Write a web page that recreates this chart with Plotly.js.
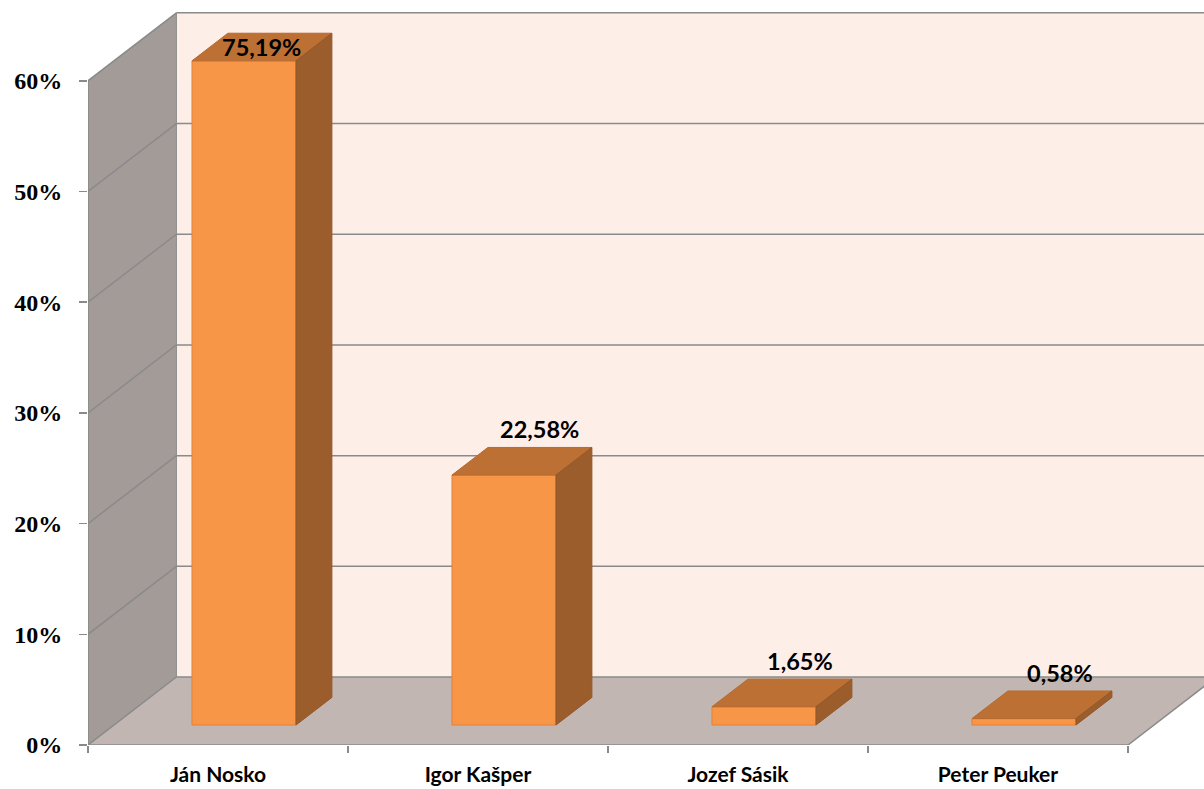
<!DOCTYPE html>
<html>
<head>
<meta charset="utf-8">
<script src="https://cdn.plot.ly/plotly-3.0.1.min.js"></script>
<style>html,body{margin:0;padding:0;background:#fff;}#chart{width:1204px;height:789px;}</style>
</head>
<body>
<div id="chart"></div>
<script>
// ---- data ----
const categories = ['Ján Nosko', 'Igor Kašper', 'Jozef Sásik', 'Peter Peuker'];
const shares = [75.19, 22.58, 1.65, 0.58];
const yTickVals = [0, 10, 20, 30, 40, 50, 60];
const yTickText = ['0%', '10%', '20%', '30%', '40%', '50%', '60%'];
const axisMax = 60;

// ---- 3D geometry (styling) ----
const DX = 0.34;      // depth offset in category units
const DY = 6.14;      // depth offset in percent units
const F0 = 0.294, F1 = 0.70; // bar depth slice
const BW = 0.40;      // bar width
const XMIN = -0.5, XEND = 3.5, XMAX = 3.7923;
const YMAX = 67.3;

const idx = categories.map((_, i) => i);
const clipped = shares.map(v => Math.min(v, axisMax));
const labels = shares.map(v => v.toFixed(2).replace('.', ',') + '%');

const frontX = idx.map(i => i + F0 * DX);
const base = F0 * DY;
const dd = F1 - F0;

// side and top faces
const sideX = [], sideY = [], topX = [], topY = [];
idx.forEach(i => {
  const xl = frontX[i] - BW / 2, xr = frontX[i] + BW / 2;
  const b = base, t = clipped[i] + base;
  sideX.push(xr, xr + dd * DX, xr + dd * DX, xr, xr, null);
  sideY.push(b, b + dd * DY, t + dd * DY, t, b, null);
  topX.push(xl, xr, xr + dd * DX, xl + dd * DX, xl, null);
  topY.push(t, t, t + dd * DY, t + dd * DY, t, null);
});

const traces = [
  {
    type: 'bar', x: frontX, y: clipped, base: base, width: BW,
    marker: {color: '#F79646', line: {color: '#E4813A', width: 1}},
    hoverinfo: 'skip', showlegend: false
  },
  {
    type: 'scatter', mode: 'lines', x: topX, y: topY, fill: 'toself',
    fillcolor: '#BC7034', line: {color: '#B56A30', width: 1},
    hoverinfo: 'skip', showlegend: false
  },
  {
    type: 'scatter', mode: 'lines', x: sideX, y: sideY, fill: 'toself',
    fillcolor: '#9B5D2B', line: {color: '#935728', width: 1},
    hoverinfo: 'skip', showlegend: false
  }
];

const gridColor = '#8A8A8A';
const shapes = [];
const P = (pts) => 'M ' + pts.map(p => p[0] + ',' + p[1]).join(' L ') + ' Z';
// back wall
shapes.push({type: 'path', xref: 'x', yref: 'y', layer: 'below',
  path: P([[XMIN + DX, DY], [XMAX, DY], [XMAX, axisMax + DY], [XMIN + DX, axisMax + DY]]),
  fillcolor: '#FDEEE8', line: {width: 0}});
// left wall
shapes.push({type: 'path', xref: 'x', yref: 'y', layer: 'below',
  path: P([[XMIN, 0], [XMIN + DX, DY], [XMIN + DX, axisMax + DY], [XMIN, axisMax]]),
  fillcolor: '#A39B98', line: {width: 0}});
// floor
shapes.push({type: 'path', xref: 'x', yref: 'y', layer: 'below',
  path: P([[XMIN, 0], [XEND, 0], [XEND + DX, DY], [XMIN + DX, DY]]),
  fillcolor: '#C1B6B2', line: {width: 0}});
// gridlines
yTickVals.forEach(v => {
  shapes.push({type: 'line', xref: 'x', yref: 'y', layer: 'below',
    x0: XMIN + DX, x1: XMAX, y0: v + DY, y1: v + DY, line: {color: gridColor, width: 1.5}});
  shapes.push({type: 'line', xref: 'x', yref: 'y', layer: 'below',
    x0: XMIN, x1: XMIN + DX, y0: v, y1: v + DY, line: {color: gridColor, width: 1.5}});
});
// edges
shapes.push({type: 'line', xref: 'x', yref: 'y', layer: 'below',
  x0: XMIN + DX, x1: XMIN + DX, y0: DY, y1: axisMax + DY, line: {color: gridColor, width: 1}});
shapes.push({type: 'line', xref: 'x', yref: 'y', layer: 'below',
  x0: XMIN, x1: XMIN, y0: 0, y1: axisMax, line: {color: gridColor, width: 1.5}});
shapes.push({type: 'line', xref: 'x', yref: 'y', layer: 'below',
  x0: XMIN, x1: XEND, y0: 0, y1: 0, line: {color: gridColor, width: 1.5}});
shapes.push({type: 'line', xref: 'x', yref: 'y', layer: 'below',
  x0: XEND, x1: XEND + DX, y0: 0, y1: DY, line: {color: gridColor, width: 1.5}});

const labelFont = {family: 'Lato, Arial, sans-serif', size: 23.5, weight: 700, color: '#000'};
const annotations = idx.map(i => {
  if (shares[i] > axisMax) {
    return {x: frontX[i] + dd * DX / 2, y: axisMax + base + dd * DY / 2,
      xref: 'x', yref: 'y', text: labels[i], showarrow: false,
      xanchor: 'center', yanchor: 'middle', font: labelFont};
  }
  return {x: frontX[i] + dd * DX, y: clipped[i] + DY,
    xref: 'x', yref: 'y', text: labels[i], showarrow: false,
    xanchor: 'center', yanchor: 'middle', yshift: -2, font: labelFont};
});

const layout = {
  width: 1204, height: 789,
  margin: {l: 88, r: 0, t: 0, b: 44, pad: 0},
  paper_bgcolor: '#FFFFFF', plot_bgcolor: 'rgba(0,0,0,0)',
  showlegend: false,
  xaxis: {
    range: [XMIN, XMAX], tickvals: idx, ticktext: categories, ticks: '',
    showgrid: false, zeroline: false, showline: false, fixedrange: true,
    ticklabelstandoff: 15,
    tickfont: {family: 'Lato, Arial, sans-serif', size: 21, weight: 700, color: '#000'},
    minor: {tickvals: [-0.5, 0.5, 1.5, 2.5, 3.5], ticks: 'outside', ticklen: 7,
      tickwidth: 1.5, tickcolor: gridColor, showgrid: false}
  },
  yaxis: {
    range: [0, YMAX], tickvals: yTickVals, ticktext: yTickText,
    ticks: 'outside', ticklen: 8, tickwidth: 1.5, tickcolor: gridColor,
    showgrid: false, zeroline: false, showline: false, fixedrange: true,
    ticklabelstandoff: 12,
    tickfont: {family: '"Liberation Serif", "Times New Roman", serif', size: 24, weight: 700, color: '#000'}
  },
  shapes: shapes,
  annotations: annotations
};

Plotly.newPlot('chart', traces, layout, {displayModeBar: false, staticPlot: true});
</script>
</body>
</html>
